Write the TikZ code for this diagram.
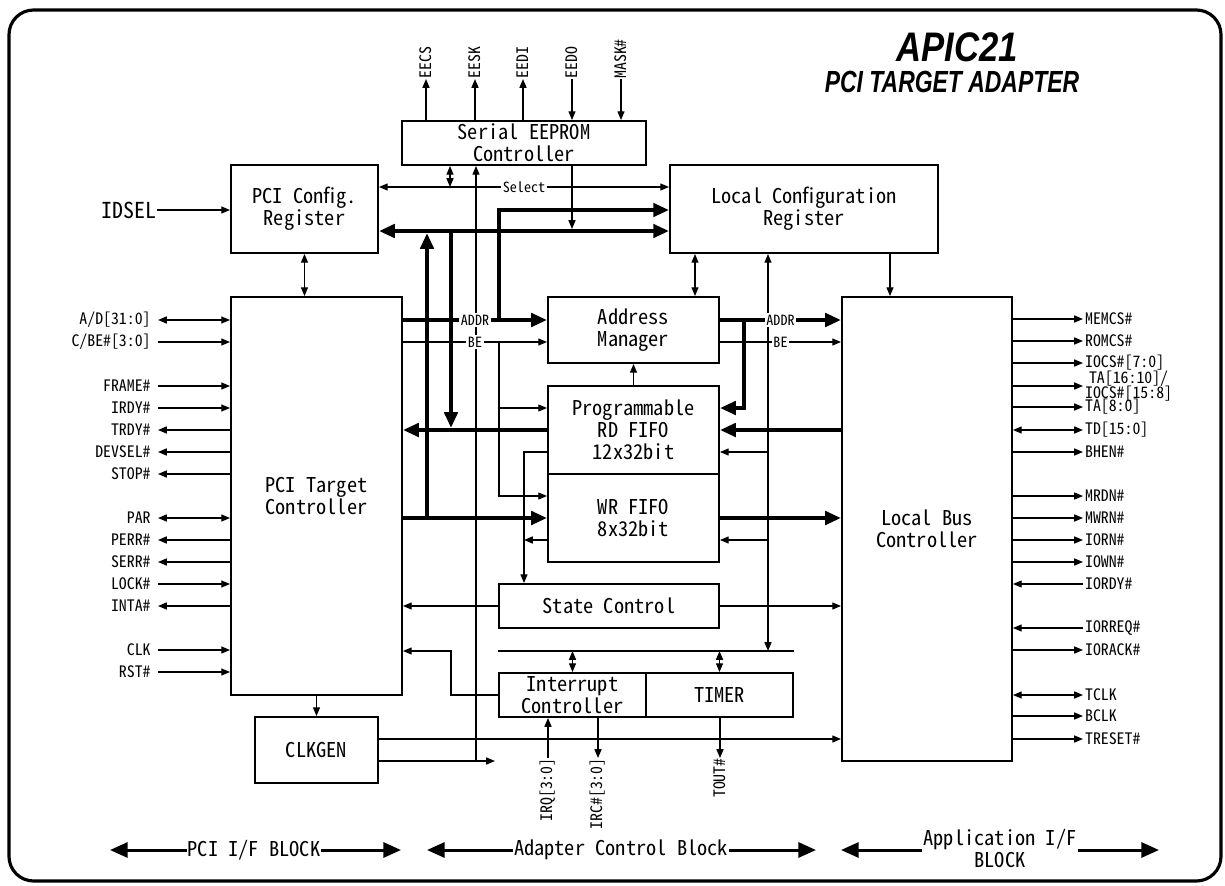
\documentclass[tikz,border=0pt]{standalone}
\usepackage{fontspec}
\usepackage{graphicx}
\usetikzlibrary{arrows.meta}
\newfontfamily\gothic[RawFeature=+hwid]{Noto Sans CJK JP}
\newfontfamily\titlefont{Liberation Sans}
\newcommand{\boxfont}{\gothic\fontsize{11.6}{12.5}\selectfont}
\newcommand{\pinfont}{\gothic\fontsize{9}{9}\selectfont}
\newcommand{\tagfont}{\gothic\fontsize{8}{8}\selectfont}

\tikzset{
  >={Triangle[length=5pt,width=4pt]},
  blk/.style={draw, line width=1.1pt, align=center, font=\boxfont, inner sep=0pt},
  sig/.style={line width=0.7pt},
  bus/.style={line width=2.3pt, >={Triangle[length=9pt,width=7.5pt]}},
  barrow/.style={line width=1.7pt, -{Triangle[length=10pt,width=8.5pt]}},
  pinl/.style={font=\pinfont, anchor=east, inner xsep=4pt, inner ysep=0pt},
  pinr/.style={font=\pinfont, anchor=west, inner xsep=1pt, inner ysep=0pt, align=center},
  pinv/.style={font=\pinfont, rotate=90, inner sep=0pt},
  tag/.style={font=\tagfont, fill=white, inner sep=1pt},
  blklabel/.style={font=\boxfont, align=center, inner sep=0.5pt},
  lin/.style={->}, lout/.style={<-}, lbi/.style={<->},
  rout/.style={->}, rin/.style={<-}, rbi/.style={<->},
  eup/.style={->}, edn/.style={<-},
}

\begin{document}
\begin{tikzpicture}[x=0.02cm, y=-0.02cm]
  \useasboundingbox (0,0) rectangle (1225,886);
  \draw[line width=1.8pt, rounded corners=14pt] (9,10) rectangle (1221,881);

  % title
  \node (title) at (957,47) {\scalebox{0.84}[1]{\titlefont\bfseries\itshape\fontsize{23.5}{24}\selectfont APIC21}};
  \node (subtitle) at (952,82) {\scalebox{0.75}[1]{\titlefont\bfseries\itshape\fontsize{17.4}{18}\selectfont PCI TARGET ADAPTER}};

  % blocks
  \node[blk, minimum width=4.88cm, minimum height=0.88cm] (eeprom) at (524,143) {Serial EEPROM\\Controller};
  \node[blk, minimum width=2.94cm, minimum height=1.76cm] (pcicfg) at (304.5,209) {PCI Config.\\Register};
  \node[blk, minimum width=5.36cm, minimum height=1.76cm] (lcr) at (804,209) {Local Configuration\\Register};
  \node[blk, minimum width=3.42cm, minimum height=7.96cm] (pcit) at (316.5,496) {PCI Target\\Controller};
  \node[blk, minimum width=3.42cm, minimum height=1.32cm] (addr) at (633.5,330) {Address\\Manager};
  \node[blk, minimum width=3.42cm, minimum height=1.76cm] (rdfifo) at (633.5,430) {Programmable\\RD FIFO\\12x32bit};
  \node[blk, minimum width=3.42cm, minimum height=1.76cm] (wrfifo) at (633.5,518) {WR FIFO\\8x32bit};
  \node[blk, minimum width=4.40cm, minimum height=0.88cm] (state) at (609,606) {State Control};
  \node[blk, minimum width=2.94cm, minimum height=0.88cm] (intc) at (572.5,695) {Interrupt\\Controller};
  \node[blk, minimum width=2.94cm, minimum height=0.88cm] (timer) at (719.5,695) {TIMER};
  \node[blk, minimum width=2.46cm, minimum height=1.32cm] (clkgen) at (316.5,750) {CLKGEN};
  \node[blk, minimum width=3.40cm, minimum height=9.28cm] (lbc) at (927,529) {Local Bus\\Controller};

  % serial eeprom pins
  \foreach \x/\t/\s in {426/EECS/eup, 475/EESK/eup, 523/EEDI/eup, 572/EEDO/edn, 621/MASK\#/edn}{
    \node[pinv, anchor=west] (ee\x) at (\x,79) {\t};
    \draw[sig,\s] (eeprom.north -| ee\x) -- (ee\x.west);
  }

  % pci side pins
  \node[font=\gothic\fontsize{12.5}{13}\selectfont, anchor=east, inner sep=0pt] (idsel) at (157,210) {IDSEL};
  \draw[sig,->] (idsel) -- (pcicfg.west |- idsel);
  \foreach \y/\t/\s in {320/{A/D[31:0]}/lbi, 342/{C/BE\#[3:0]}/lin, 386/FRAME\#/lin, 408/IRDY\#/lin,
      430/TRDY\#/lout, 452/DEVSEL\#/lout, 474/STOP\#/lout, 518/PAR/lbi, 540/PERR\#/lout,
      562/SERR\#/lout, 584/LOCK\#/lin, 606/INTA\#/lout, 650/CLK/lin, 672/RST\#/lin}{
    \node[pinl] (pl\y) at (158,\y) {\t};
    \draw[sig,\s] (pl\y.east) -- (pcit.west |- pl\y.east);
  }

  % local bus pins
  \foreach \y/\t/\s in {319/MEMCS\#/rout, 341/ROMCS\#/rout, 363/{IOCS\#[7:0]}/rout,
      386/{TA[16:10]/\\IOCS\#[15:8]}/rout, 407/{TA[8:0]}/rout, 430/{TD[15:0]}/rbi,
      452/BHEN\#/rout, 496/MRDN\#/rout, 518/MWRN\#/rout, 540/IORN\#/rout, 562/IOWN\#/rout,
      584/IORDY\#/rin, 628/IORREQ\#/rin, 650/IORACK\#/rout, 695/TCLK/rbi, 716/BCLK/rout,
      739/TRESET\#/rout}{
    \node[pinr] (pr\y) at (1083,\y) {\t};
    \draw[sig,\s] (lbc.east |- pr\y.west) -- (pr\y.west);
  }

  % thin control lines
  \draw[sig,<->] (pcicfg.south) -- (pcicfg.south |- pcit.north);
  \draw[sig,->] (pcit.south) -- (pcit.south |- clkgen.north);
  \draw[sig,<->] (pcicfg.east |- 0,187) -- (lcr.west |- 0,187) node[tag, midway] (sel) {Select};
  \draw[sig,<->] (eeprom.south -| 450,0) -- (450,187);
  \draw[sig,->] (eeprom.south -| 572,0) -- (572,229);
  \draw[sig,->] (clkgen.east |- 0,761) -- (495,761);
  \draw[sig,->] (476,761) -- (eeprom.south -| 476,0);
  \draw[sig,->] (clkgen.east |- 0,739) -- (lbc.west |- 0,739);
  \draw[sig,->] (499,342) |- (rdfifo.west |- 0,408);
  \draw[sig,->] (499,342) |- (wrfifo.west |- 0,496);
  \draw[sig,->] (rdfifo.west |- 0,452) -| (state.north -| 524,0);
  \draw[sig,->] (wrfifo.west |- 0,540) -- (524,540);
  \draw[sig,->] (rdfifo.north) -- (addr.south);
  \draw[sig,<->] (lcr.south -| 695,0) -- (addr.north -| 695,0);
  \draw[sig,->] (lcr.south -| 890,0) -- (lbc.north -| 890,0);
  \draw[sig,<->] (lcr.south -| 768,0) -- (768,651);
  \draw[sig,->] (768,452) -- (rdfifo.east |- 0,452);
  \draw[sig,->] (768,540) -- (wrfifo.east |- 0,540);
  \draw[sig,->] (state.west) -- (pcit.east |- state.west);
  \draw[sig,->] (state.east) -- (lbc.west |- state.east);
  \draw[sig] (intc.west |- 0,651) -- (timer.east |- 0,651);
  \draw[sig,<->] (intc.north |- 0,651) -- (intc.north);
  \draw[sig,<->] (timer.north |- 0,651) -- (timer.north);
  \draw[sig,->] (intc.west) -| (451,651) -- (pcit.east |- 0,651);

  % interrupt and timer pins
  \node[pinv, anchor=east] (irq) at (548,758) {IRQ[3:0]};
  \node[pinv, anchor=east] (irc) at (598,758) {IRC\#[3:0]};
  \node[pinv, anchor=east] (tout) at (720,758) {TOUT\#};
  \draw[sig,->] (irq.east) -- (intc.south -| irq.east);
  \draw[sig,->] (intc.south -| irc.east) -- (irc.east);
  \draw[sig,->] (timer.south -| tout.east) -- (tout.east);

  % data buses
  \draw[bus,<->] (pcicfg.east |- 0,231) -- (lcr.west |- 0,231);
  \draw[bus,->] (499,320) |- (lcr.west |- 0,210);
  \draw[bus,->] (427,518) -- (427,233);
  \draw[bus,->] (451,231) -- (451,428);
  \draw[bus,->] (pcit.east |- 0,320) -- (addr.west |- 0,320) node[tag, midway] (addrl) {ADDR};
  \draw[sig,->] (pcit.east |- 0,342) -- (addr.west |- 0,342) node[tag, midway] (bel) {BE};
  \draw[bus,->] (rdfifo.west) -- (pcit.east |- rdfifo.west);
  \draw[bus,->] (pcit.east |- wrfifo.west) -- (wrfifo.west);
  \draw[bus,->] (744,320) |- (rdfifo.east |- 0,408);
  \draw[bus,->] (addr.east |- 0,320) -- (lbc.west |- 0,320) node[tag, midway] (addrr) {ADDR};
  \draw[sig,->] (addr.east |- 0,342) -- (lbc.west |- 0,342) node[tag, midway] (ber) {BE};
  \draw[bus,->] (lbc.west |- rdfifo.east) -- (rdfifo.east);
  \draw[bus,->] (wrfifo.east) -- (lbc.west |- wrfifo.east);

  % block legend
  \node[blklabel] (pciblk) at (254,850) {PCI I/F BLOCK};
  \node[blklabel] (adpblk) at (621,850) {Adapter Control Block};
  \node[blklabel] (appblk) at (1000,849) {Application I/F\\BLOCK};
  \coordinate (pciL) at (110,850);
  \coordinate (pciR) at (401,850);
  \coordinate (adpL) at (427,850);
  \coordinate (adpR) at (816,850);
  \coordinate (appL) at (841,850);
  \coordinate (appR) at (1159,850);
  \draw[barrow] (pciblk.west) -- (pciL);
  \draw[barrow] (pciblk.east) -- (pciR);
  \draw[barrow] (adpblk.west) -- (adpL);
  \draw[barrow] (adpblk.east) -- (adpR);
  \draw[barrow] (appblk.west |- appL) -- (appL);
  \draw[barrow] (appblk.east |- appR) -- (appR);
\end{tikzpicture}
\end{document}
